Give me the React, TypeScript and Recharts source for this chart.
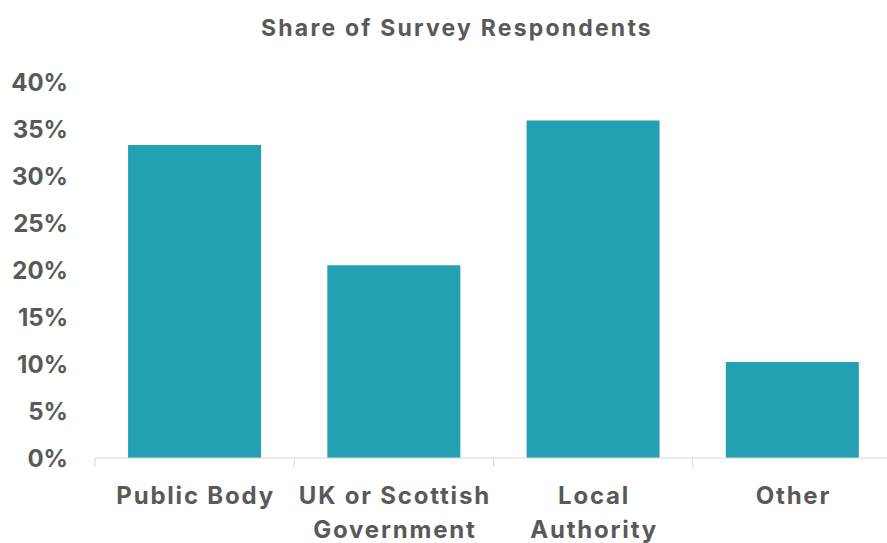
import { BarChart, Bar, XAxis, YAxis } from 'recharts'

const categories = ['Public Body', 'UK or Scottish\nGovernment', 'Local\nAuthority', 'Other']
const shares = [0.333, 0.205, 0.359, 0.102]
const yTicks = [0, 0.05, 0.1, 0.15, 0.2, 0.25, 0.3, 0.35, 0.4]

const data = categories.map((name, i) => ({ name, share: shares[i] }))

const CHART_W = 900
const CHART_H = 543
const Y_AXIS_W = 95
const RIGHT = 8
const BAND = (CHART_W - Y_AXIS_W - RIGHT) / categories.length
const TEXT = '#595959'
const FONT = 'Inter, "Open Sans", sans-serif'

function CategoryTick(props: any) {
  const { x, y, payload } = props
  const lines = String(payload.value).split('\n')
  const left = x - BAND / 2
  return (
    <g>
      <line x1={left} x2={left} y1={y} y2={y + 9} stroke="#d9d9d9" strokeWidth={1} />
      {lines.map((line, i) => (
        <text
          key={i}
          x={x + 1}
          y={y + 46 + i * 34}
          textAnchor="middle"
          fill={TEXT}
          fontSize={24}
          fontWeight={700}
          fontFamily={FONT}
          letterSpacing={1.8}
        >
          {line}
        </text>
      ))}
    </g>
  )
}

export default function App() {
  return (
    <div
      style={{
        position: 'absolute',
        left: 0,
        top: 0,
        width: 887,
        height: 543,
        overflow: 'hidden',
        background: '#fff',
        fontFamily: FONT,
      }}
    >
      <div
        style={{
          position: 'absolute',
          left: 0,
          top: 17,
          width: 914,
          textAlign: 'center',
          fontSize: 23,
          lineHeight: '23px',
          letterSpacing: 2.2,
          fontWeight: 700,
          color: TEXT,
        }}
      >
        Share of Survey Respondents
      </div>
      <BarChart
        width={CHART_W}
        height={CHART_H}
        data={data}
        margin={{ top: 82, right: RIGHT, left: 0, bottom: 0 }}
        barCategoryGap="16.6%"
      >
        <XAxis
          dataKey="name"
          height={85}
          interval={0}
          tickLine={false}
          tickSize={0}
          tickMargin={0}
          axisLine={{ stroke: '#d9d9d9', strokeWidth: 1 }}
          tick={<CategoryTick />}
        />
        <YAxis
          width={Y_AXIS_W}
          domain={[0, 0.4]}
          ticks={yTicks}
          interval={0}
          axisLine={false}
          tickLine={false}
          tickSize={0}
          tickMargin={27}
          tickFormatter={(v: number) => `${Math.round(v * 100)}%`}
          tick={{ fill: TEXT, fontSize: 24, fontWeight: 700, fontFamily: FONT }}
        />
        <Bar dataKey="share" fill="#23A0B2" isAnimationActive={false} />
      </BarChart>
    </div>
  )
}
